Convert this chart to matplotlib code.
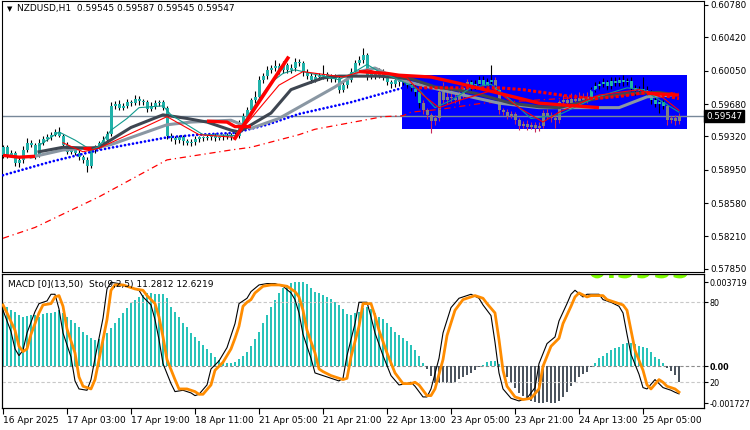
import numpy as np
import matplotlib.pyplot as plt
from matplotlib.transforms import blended_transform_factory, Affine2D
from matplotlib.textpath import TextPath
from matplotlib.patches import PathPatch
from matplotlib.font_manager import FontProperties

plt.rcParams['font.family'] = ['DejaVu Sans']

### NZDUSD H1 bars, prices in pips (x 0.0001)
first_open = 5911
closes = [
    5920, 5911, 5914, 5902, 5906, 5917, 5925, 5923, 5911, 5925,
    5929, 5931, 5934, 5937, 5933, 5923, 5915, 5917, 5914, 5909,
    5906, 5899, 5917, 5920, 5925, 5928, 5935, 5966, 5968, 5964,
    5966, 5970, 5969, 5974, 5971, 5970, 5962, 5966, 5969, 5970,
    5964, 5933, 5930, 5928, 5931, 5927, 5925, 5926, 5929, 5931,
    5930, 5931, 5933, 5930, 5931, 5933, 5931, 5934, 5933, 5946,
    5955, 5961, 5972, 5976, 5995, 5999, 6006, 6008, 6010, 6006,
    6011, 6006, 6008, 6015, 6014, 6004, 5999, 5995, 5998, 5999,
    6001, 5998, 5996, 5997, 5984, 5989, 5995, 6004, 6014, 6017,
    6022, 5999, 6002, 6000, 6004, 5999, 5992, 5990, 5995, 5992,
    5994, 5989, 5986, 5981, 5969, 5961, 5956, 5949, 5952, 5981,
    5972, 5976, 5975, 5972, 5978, 5986, 5992, 5988, 5990, 5995,
    5988, 5992, 5995, 5984, 5961, 5959, 5955, 5957, 5950, 5944,
    5946, 5943, 5945, 5941, 5944, 5958, 5955, 5952, 5950, 5970,
    5972, 5969, 5974, 5971, 5975, 5972, 5976, 5984, 5988, 5990,
    5992, 5988, 5994, 5991, 5995, 5992, 5994, 5986, 5982, 5985,
    5984, 5981, 5972, 5968, 5970, 5966, 5950, 5952, 5949, 5954.7]
up_wick = [
    3, 2, 3, 2, 3, 4, 5, 3, 2, 4,   3, 4, 3, 3, 6, 2, 3, 3, 2, 3,
    2, 3, 3, 3, 2, 4, 3, 4, 3, 5,   3, 4, 3, 4, 3, 3, 2, 4, 3, 3,
    3, 2, 3, 2, 3, 3, 2, 3, 3, 2,   2, 3, 2, 3, 2, 2, 3, 2, 3, 4,
    3, 4, 3, 6, 4, 3, 4, 3, 7, 4,   5, 3, 4, 4, 3, 2, 3, 3, 4, 3,
    10, 3, 3, 4, 2, 3, 4, 4, 3, 4,  8, 3, 4, 3, 4, 3, 2, 3, 3, 3,
    3, 4, 3, 3, 2, 3, 3, 2, 4, 3,   12, 8, 10, 6, 8, 5, 4, 3, 5, 4,
    4, 5, 16, 3, 2, 3, 4, 3, 2, 3,  3, 4, 3, 3, 4, 3, 5, 4, 3, 3,
    6, 5, 6, 5, 6, 5, 5, 3, 4, 4,   5, 3, 4, 4, 3, 5, 3, 4, 3, 3,
    13, 4, 3, 4, 3, 3, 2, 3, 4, 3]
dn_wick = [
    3, 3, 2, 3, 4, 3, 2, 3, 4, 2,   3, 2, 3, 2, 2, 3, 3, 2, 3, 3,
    3, 6, 2, 3, 2, 3, 2, 2, 4, 3,   3, 2, 3, 2, 4, 3, 3, 2, 3, 3,
    3, 4, 3, 4, 3, 4, 3, 4, 3, 3,   3, 2, 3, 3, 2, 3, 2, 3, 4, 3,
    4, 3, 5, 3, 3, 4, 3, 4, 3, 5,   3, 4, 3, 3, 4, 5, 3, 4, 3, 3,
    3, 4, 3, 3, 4, 3, 3, 3, 4, 3,   3, 4, 3, 4, 3, 4, 3, 4, 3, 4,
    3, 3, 4, 4, 5, 4, 5, 13, 4, 3,  3, 4, 5, 3, 4, 3, 3, 4, 3, 3,
    4, 3, 3, 4, 4, 3, 4, 3, 4, 5,   3, 4, 3, 4, 3, 3, 4, 4, 9, 3,
    3, 4, 3, 3, 4, 3, 3, 3, 3, 4,   3, 4, 3, 3, 3, 4, 3, 3, 4, 3,
    3, 4, 4, 3, 10, 4, 5, 3, 4, 3]
# bars painted gray by the colouring overlay
gray_bars = list(range(105, 117)) + list(range(123, 147)) + list(range(166, 170))

# blue box drawn on the chart (bar index / pips)
box_left, box_right = 99.75, 171
box_low, box_high = 5940.3, 6000.2

### moving averages (bar index, pips)
blue_i = [0, 12, 24, 41, 49, 58, 66, 74, 87, 100, 120, 140, 169]
blue_p = [5889, 5904, 5917, 5931, 5934, 5936, 5945, 5957, 5970, 5986, 5988, 5984, 5982]

long_i = [0, 8, 24, 41, 57, 62, 74, 78, 95, 100, 102, 109, 120, 132, 150, 169]
long_p = [5819, 5831, 5865, 5906, 5917, 5920, 5934, 5940, 5954, 5955, 5959, 5962, 5969, 5972, 5977, 5981]

dark_i = [9, 15, 22, 24, 32, 40, 46, 51, 57, 59, 67, 72, 75, 80, 84, 94, 102, 108, 113,
          118, 127, 134, 139, 149, 156, 164, 168]
dark_p = [5915, 5920, 5919, 5920, 5942, 5956, 5952, 5948, 5939, 5937, 5958, 5984, 5989,
          5997, 5999, 5999, 5996, 5987, 5984, 5980, 5969, 5965, 5964, 5975, 5980, 5981, 5978]

light_i = [7, 15, 24, 27, 34, 41, 47, 57, 62, 69, 75, 83, 89, 93, 99, 112, 124, 134, 148,
           154, 161, 167]
light_p = [5909, 5917, 5920, 5923, 5934, 5945, 5948, 5950, 5941, 5952, 5967, 5987, 6004,
           6008, 5995, 5981, 5969, 5964, 5964, 5964, 5976, 5978]

fast_i = [9, 14, 18, 22, 24, 27, 31, 34, 40, 42, 50, 58, 59, 63, 67, 70, 73, 78, 84, 88,
          91, 94, 99, 104, 108, 112, 117, 122, 127, 132, 139, 148, 156, 160, 165, 169]
fast_p = [5922, 5937, 5928, 5917, 5921, 5939, 5952, 5964, 5966, 5956, 5934, 5933, 5939,
          5967, 5992, 6002, 6006, 6001, 5995, 6004, 6012, 6004, 5995, 5984, 5964, 5972,
          5986, 5990, 5972, 5952, 5956, 5975, 5986, 5984, 5970, 5959]

thin_red_i = [15, 20, 24, 41, 49, 58, 69, 75, 85, 91, 101, 105, 109, 114, 123, 129, 135,
              139, 149, 159, 165, 169]
thin_red_p = [5925, 5915, 5919, 5954, 5934, 5931, 5989, 6004, 5998, 6006, 5997, 5978, 5964,
              5972, 5984, 5964, 5948, 5959, 5978, 5984, 5975, 5961]

# thick red pieces
red_segs = [
    ([0, 4, 8], [5911, 5909, 5910]),
    ([20, 22], [5919, 5919]),
    ([51, 56, 58, 62], [5949, 5948, 5943, 5943]),
    ([89, 96, 99, 107, 114, 124, 134, 149], [6004, 6002, 6000, 5998, 5991, 5980, 5969, 5964]),
    ([161, 169], [5980, 5978]),
]
trend_i = [58, 71.2]
trend_p = [5930, 6019]

dots_i = [104, 124, 130, 141, 148, 155, 161, 169]
dots_p = [5986, 5986, 5984, 5977, 5974, 5977, 5981, 5974]

last_price = 0.59547
price_ticks = [0.60780, 0.60420, 0.60050, 0.59680, 0.59320, 0.58950, 0.58580, 0.58210, 0.57850]

### MACD histogram (x 0.0001)
macd = [
    27.4, 25.7, 24.5, 23.8, 22.3, 21.6, 21.9, 22.3, 22.2, 21.6,
    22.6, 23.0, 23.3, 23.8, 24.5, 23.0, 21.3, 20.1, 18.7, 16.9,
    15.0, 13.6, 12.1, 11.4, 11.7, 12.8, 14.6, 16.5, 18.7, 20.8,
    23.0, 25.2, 27.4, 28.9, 30.0, 31.1, 31.8, 31.8, 31.5, 31.5,
    31.5, 29.6, 26.0, 23.8, 21.6, 19.0, 16.9, 14.6, 12.8, 11.1,
    9.2, 7.3, 5.5, 3.8, 2.6, 1.7, 1.5, 1.2, 1.7, 2.9,
    4.4, 6.3, 8.7, 11.7, 15.0, 18.7, 22.3, 25.7, 28.9, 31.8,
    34.0, 35.4, 36.5, 36.7, 36.9, 36.9, 35.9, 34.0, 32.5, 31.8,
    31.1, 30.3, 29.2, 28.1, 26.7, 24.8, 22.7, 22.3, 23.0, 23.8,
    25.2, 26.0, 24.8, 23.0, 21.6, 20.4, 18.7, 17.2, 15.0, 13.6,
    12.1, 11.1, 9.2, 7.0, 4.4, 1.2, -1.5, -4.4, -7.3, -7.3,
    -7.0, -7.3, -7.6, -6.9, -5.8, -5.0, -3.9, -2.9, -1.7, -0.6,
    0.6, 1.7, 2.3, 2.3, 0.9, -1.5, -4.7, -7.6, -9.8, -11.7,
    -13.1, -14.1, -15.2, -15.7, -16.0, -16.0, -15.7, -16.0, -16.0, -15.2,
    -13.4, -11.2, -8.7, -6.9, -5.0, -3.5, -2.5, -0.3, 1.2, 3.4,
    4.4, 5.5, 7.0, 7.7, 8.5, 9.6, 10.2, 10.2, 9.6, 8.7,
    8.5, 7.7, 6.3, 3.8, 2.9, 1.2, -1.0, -2.0, -3.9, -6.9]

### Stochastic (9,2,5): signal (orange) and main (black)
sig_i = [0, 1, 3, 4, 5, 6, 7, 9, 10, 12, 13, 14, 15, 16, 18, 19, 20, 22, 23, 24,
         26, 27, 28, 30, 33, 35, 36, 38, 39, 40, 41, 43, 44, 46, 48, 49, 50, 52, 53, 55,
         57, 58, 59, 60, 61, 62, 63, 65, 67, 69, 71, 73, 74, 75, 76, 78, 79, 80, 82, 83,
         85, 86, 87, 89, 90, 92, 93, 94, 96, 98, 100, 102, 103, 104, 106, 107, 108, 110, 111, 113,
         115, 117, 118, 120, 121, 123, 124, 125, 126, 128, 130, 132, 134, 135, 137, 139, 140, 142, 143, 144,
         146, 147, 150, 151, 153, 155, 156, 157, 158, 160, 161, 162, 164, 165, 166, 168, 169]
sig_v = [78, 72, 59, 47, 43, 45, 56, 72, 78, 79, 84, 85, 77, 60, 42, 24, 17, 15, 22, 37,
         67, 89, 93, 93, 90, 89, 85, 79, 69, 54, 37, 22, 15, 15, 13, 11, 11, 18, 29, 35,
         45, 53, 62, 77, 80, 82, 87, 92, 93, 93, 92, 88, 84, 74, 59, 42, 30, 28, 25, 24,
         22, 23, 39, 62, 79, 79, 70, 59, 42, 27, 19, 19, 20, 18, 10, 10, 15, 37, 55, 74,
         82, 84, 85, 83, 79, 72, 52, 29, 17, 9, 7, 8, 15, 32, 47, 53, 64, 77, 84, 87,
         84, 85, 85, 82, 80, 78, 74, 59, 44, 29, 18, 15, 22, 20, 17, 15, 12.6]
main_i = [0, 2, 3, 4, 5, 6, 8, 9, 11, 12,
          13, 14, 15, 17, 18, 19, 21, 22, 23, 25,
          26, 27, 29, 32, 34, 35, 37, 38, 39, 40,
          42, 43, 45, 47, 48, 49, 51, 52, 54, 56,
          57, 58, 59, 60, 61, 62, 64, 66, 68, 70,
          72, 73, 74, 75, 77, 78, 79, 81, 82, 84,
          85, 86, 88, 89, 91, 92, 93, 95, 97, 99,
          101, 102, 103, 105, 106, 107, 109, 110, 112, 114,
          116, 117, 119, 120, 122, 123, 124, 125, 127, 129,
          131, 133, 134, 136, 138, 139, 141, 142, 143, 145,
          146, 149, 150, 152, 154, 155, 156, 157, 159, 160,
          161, 163, 164, 165, 167, 168, 169]
main_v = [74, 58, 45, 40, 44, 57, 73, 79, 81, 86,
          86, 75, 57, 39, 21, 15, 14, 22, 38, 68,
          90, 95, 94, 91, 89, 84, 78, 67, 52, 34,
          19, 13, 14, 12, 10, 11, 18, 30, 36, 46,
          55, 64, 79, 81, 83, 88, 93, 94, 94, 92,
          87, 82, 72, 56, 38, 27, 26, 24, 23, 21,
          23, 40, 64, 80, 80, 69, 57, 40, 25, 18,
          19, 20, 17, 9, 9, 15, 38, 57, 76, 83,
          85, 86, 83, 78, 70, 50, 27, 15, 8, 6,
          8, 16, 34, 49, 54, 66, 79, 86, 89, 84,
          86, 86, 82, 80, 77, 72, 56, 41, 26, 16,
          15, 22, 19, 16, 14, 12.5, 11.3]

tick_bars = [0, 16, 32, 48, 64, 80, 96, 112, 128, 144, 160]
tick_text = ['16 Apr 2025', '17 Apr 03:00', '17 Apr 19:00', '18 Apr 11:00', '21 Apr 05:00',
             '21 Apr 21:00', '22 Apr 13:00', '23 Apr 05:00', '23 Apr 21:00', '24 Apr 13:00',
             '25 Apr 05:00']

### figure layout (pixel based, 750x430)
W, H = 750, 430
fig = plt.figure(figsize=(W / 100, H / 100), dpi=100)
ax = fig.add_axes([2 / W, (H - 271.5) / H, 702 / W, 270.5 / H])
axm = fig.add_axes([2 / W, (H - 408) / H, 702 / W, 134 / H], sharex=ax)
axs = axm.twinx()

def px(vals):
    return np.array(vals, dtype=float) / 10000.0

# candles
n = len(closes)
idx = np.arange(n)
c = px(closes)
o = np.r_[first_open / 10000.0, c[:-1]]
hi = np.maximum(o, c) + px(up_wick)
lo = np.minimum(o, c) - px(dn_wick)
is_gray = np.isin(idx, gray_bars)
body_col = np.where(is_gray, '#808080', '#20B2AA')
wick_col = np.where(is_gray, '#C8285A', 'black')

ax.add_patch(plt.Rectangle((box_left, box_low / 1e4), box_right - box_left,
                           (box_high - box_low) / 1e4, color='#0000FF', lw=0, zorder=1))
ax.axhline(last_price, color='#778899', lw=1, zorder=2)
ax.vlines(idx, lo, hi, colors=wick_col, lw=0.8, zorder=3)
ax.bar(idx, np.maximum(np.abs(c - o), 0.00011), bottom=np.minimum(o, c), width=0.75,
       color=body_col, lw=0, zorder=3.5)

ax.plot(long_i, px(long_p), color='red', lw=0.9, ls=(0, (5, 3, 1, 3)), zorder=4)
ax.plot(blue_i, px(blue_p), color='#0000FF', lw=2.0, ls=(0, (0.01, 1.45)),
        dash_capstyle='round', zorder=4)
ax.plot(light_i, px(light_p), color='#8A97A3', lw=2.2, zorder=4)
ax.plot(dark_i, px(dark_p), color='#3E4651', lw=2.2, zorder=4.1)
ax.plot(fast_i, px(fast_p), color='#129A8E', lw=0.8, zorder=4.2)
ax.plot(thin_red_i, px(thin_red_p), color='red', lw=0.8, zorder=4.2)
for si, sp in red_segs:
    ax.plot(si, px(sp), color='red', lw=2.4, zorder=4.3, solid_capstyle='butt')
ax.plot(dots_i, px(dots_p), color='red', lw=2.2, ls=(0, (1, 0.7)), zorder=4.3)
ax.plot(trend_i, px(trend_p), color='red', lw=2.6, zorder=4.4)

ax.set_xlim(-0.25, 175.25)
ax.set_ylim(0.57821, 0.60824)
ax.yaxis.tick_right()
ax.set_yticks(price_ticks, [f'{t:.5f}' for t in price_ticks])
ax.tick_params(axis='y', length=3, width=0.8, pad=1.5, labelsize=6.3, colors='black')
ax.tick_params(axis='x', bottom=False, labelbottom=False)

tr = blended_transform_factory(ax.transAxes, ax.transData)
ax.text(1.003, last_price, '0.59547', transform=tr, ha='left', va='center', color='white',
        fontsize=6.3, zorder=10, clip_on=False,
        bbox=dict(boxstyle='square,pad=0.2', fc='black', ec='black'))

# MACD histogram
mv = np.array(macd) / 10000.0
axm.bar(idx, mv, width=0.72, color=np.where(mv >= 0, '#29C3B9', '#4B545E'), lw=0, zorder=2)
axm.axhline(0, color='#8C8C8C', lw=0.8, ls=(0, (3, 2)), zorder=1)
axm.set_ylim(-0.0018375, 0.004025)

# big green label, only its lower edge shows under the panel top
tp = TextPath((0, 0), '0.5955', size=19, prop=FontProperties(family='DejaVu Sans', weight='bold'))
big = PathPatch(tp, fc='#7CFC00', ec='none', lw=0, zorder=1,
                transform=Affine2D().scale(100 / 72).translate(588, H - 278))
axm.add_patch(big)
big.set_clip_path(axm.patch)

# stochastic
axs.axhline(80, color='#C8C8C8', lw=0.8, ls=(0, (3, 2)), zorder=1)
axs.axhline(20, color='#C8C8C8', lw=0.8, ls=(0, (3, 2)), zorder=1)
axs.plot(main_i, main_v, color='black', lw=0.8, zorder=3)
axs.plot(sig_i, sig_v, color='#FF8C00', lw=2.0, zorder=4)
axs.set_ylim(0.7, 101.2)

axm.yaxis.tick_right()
axm.set_yticks([0.003675, 0.0, -0.001619], ['0.003719', '0.00', '-0.001727'])
axs.set_yticks([80, 20], ['80', '20'])
for a in (axm, axs):
    a.tick_params(axis='y', length=3, width=0.8, pad=1, labelsize=5.8)
axm.get_yticklabels()[1].set_fontweight('bold')

axm.set_xticks(tick_bars, tick_text)
axm.tick_params(axis='x', length=4, width=0.8, pad=2, labelsize=6.5)
for lbl in axm.get_xticklabels():
    lbl.set_ha('left')

for a in (ax, axm, axs):
    for sp in a.spines.values():
        sp.set_color('black')
        sp.set_linewidth(0.8)

fig.text(7 / W, 1 - 9 / H, '\u25bc', fontsize=5, va='center', ha='left')
fig.text(17 / W, 1 - 9 / H, 'NZDUSD,H1  0.59545 0.59587 0.59545 0.59547', fontsize=6.5,
         va='center', ha='left')
fig.text(8 / W, 1 - 284 / H, 'MACD [0](13,50)  Sto(9,2,5) 11.2812 12.6219', fontsize=6.5,
         va='center', ha='left')

fig.savefig('out.png', dpi=100)
